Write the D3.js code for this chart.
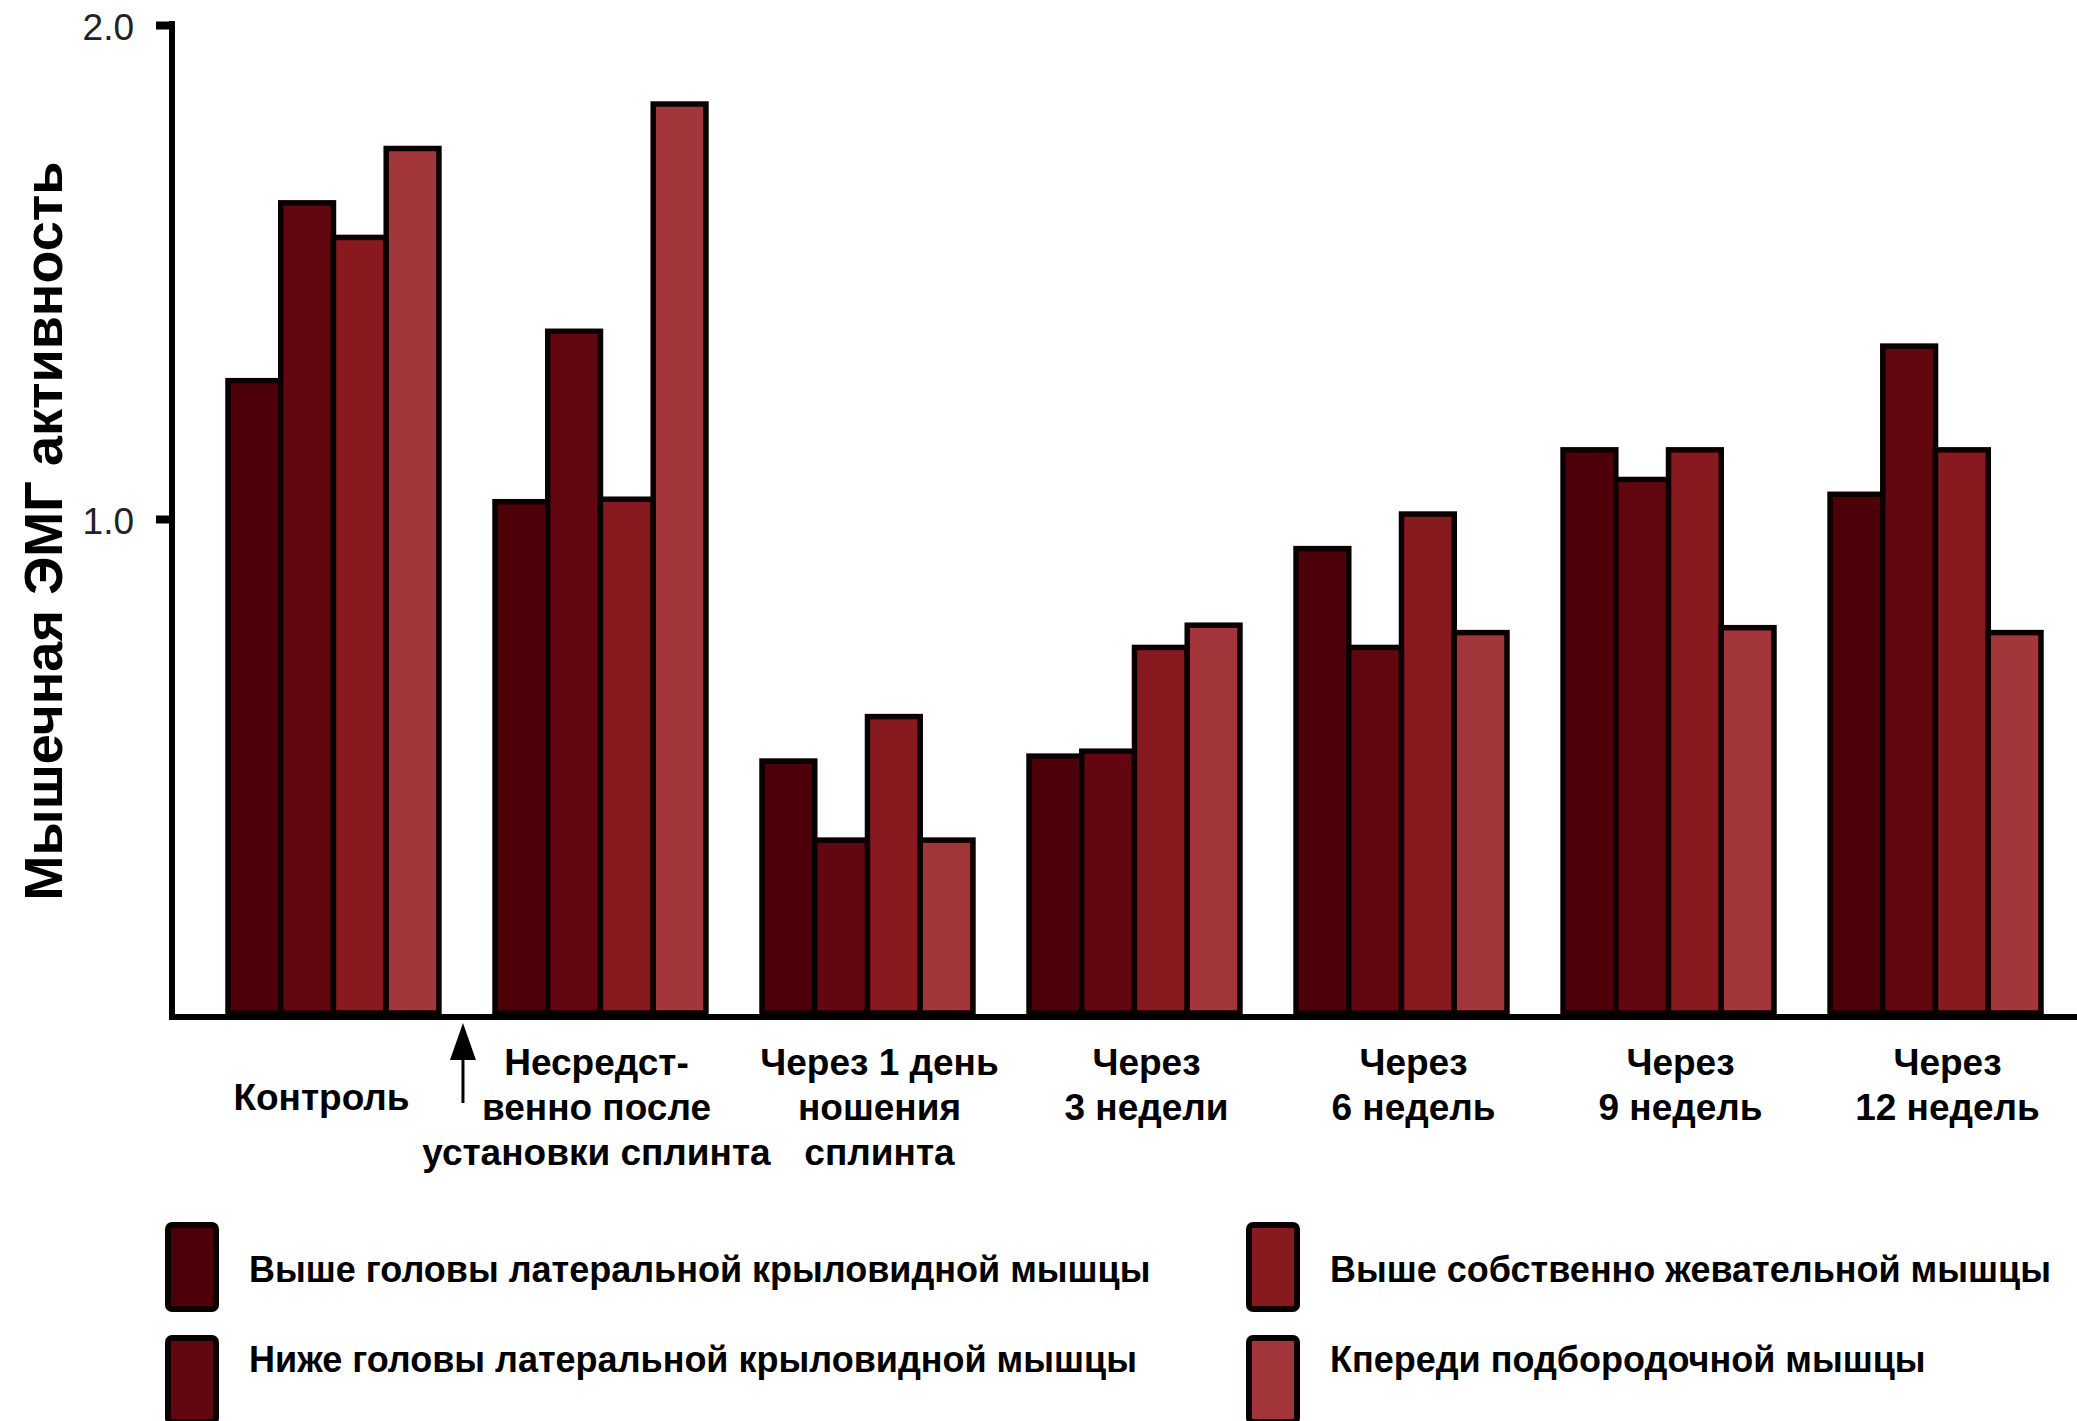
<!DOCTYPE html>
<html>
<head>
<meta charset="utf-8">
<script src="https://cdn.jsdelivr.net/npm/d3@7"></script>
<style>
  body { margin: 0; background: #fff; }
  svg { display: block; font-family: "Liberation Sans", Arial, Helvetica, sans-serif; }
</style>
</head>
<body>
<svg width="2077" height="1421"></svg>
<script>
// groups along the x axis (each label split into lines)
const groups = [
  ["Контроль"],
  ["Несредст-", "венно после", "установки сплинта"],
  ["Через 1 день", "ношения", "сплинта"],
  ["Через", "3 недели"],
  ["Через", "6 недель"],
  ["Через", "9 недель"],
  ["Через", "12 недель"]
];

// muscles (series)
const series = [
  "Выше головы латеральной крыловидной мышцы",
  "Ниже головы латеральной крыловидной мышцы",
  "Выше собственно жевательной мышцы",
  "Кпереди подбородочной мышцы"
];

// EMG activity, one array per series, in group order
const upperLateral = [1.28, 1.035, 0.51, 0.52, 0.94, 1.14, 1.05];
const lowerLateral = [1.64, 1.38, 0.35, 0.53, 0.74, 1.08, 1.35];
const masseter     = [1.57, 1.04, 0.60, 0.74, 1.01, 1.14, 1.14];
const digastric    = [1.75, 1.84, 0.35, 0.785, 0.77, 0.78, 0.77];

const yTicks = [1.0, 2.0];

const values = [upperLateral, lowerLateral, masseter, digastric];
const colors = ["#4e0009", "#62070f", "#88191f", "#a2363b"];

const svg = d3.select("svg");
const W = 2077;
const groupIds = groups.map((g, i) => i);

const x = d3.scaleBand()
  .domain(groupIds)
  .range([228, 2041])
  .paddingInner(0.21)
  .paddingOuter(0)
  .align(0);

const xs = d3.scaleBand()
  .domain(d3.range(series.length))
  .range([0, x.bandwidth()]);

const y = d3.scaleLinear()
  .domain([0, 2])
  .range([1013, 25]);

const color = d3.scaleOrdinal().domain(d3.range(series.length)).range(colors);

// bars
const rows = [];
groupIds.forEach(g => values.forEach((s, k) => rows.push({g, k, v: s[g]})));

svg.append("g")
  .selectAll("rect")
  .data(rows)
  .join("rect")
    .attr("x", d => x(d.g) + xs(d.k))
    .attr("y", d => y(d.v))
    .attr("width", xs.bandwidth())
    .attr("height", d => y(0) - y(d.v))
    .attr("fill", d => color(d.k))
    .attr("stroke", "#0a0000")
    .attr("stroke-width", 5.5);

// y axis
const yAxis = svg.append("g")
  .attr("transform", "translate(172,0)")
  .call(d3.axisLeft(y)
    .tickValues(yTicks)
    .tickSize(16)
    .tickSizeOuter(0)
    .tickPadding(22)
    .tickFormat(d3.format(".1f")));
yAxis.select(".domain").remove();
yAxis.selectAll(".tick line").attr("stroke", "#000").attr("stroke-width", 8);
yAxis.selectAll(".tick text")
  .attr("fill", "#222")
  .attr("dy", "0.4em")
  .style("font-size", "37px")
  .style("font-family", "'Liberation Sans', Arial, sans-serif");

svg.append("line")
  .attr("x1", 172).attr("x2", 172)
  .attr("y1", y(2) - 4).attr("y2", 1020)
  .attr("stroke", "#000").attr("stroke-width", 6);

// baseline
svg.append("line")
  .attr("x1", 169).attr("x2", W)
  .attr("y1", 1017).attr("y2", 1017)
  .attr("stroke", "#000").attr("stroke-width", 6);

// y title
svg.append("text")
  .attr("transform", `translate(62,${(y(0) + y(2)) / 2 + 12}) rotate(-90)`)
  .attr("text-anchor", "middle")
  .style("font-size", "54px")
  .style("font-weight", "bold")
  .text("Мышечная ЭМГ активность");

// group labels
const labels = svg.append("g")
  .style("font-size", "37px")
  .style("font-weight", "bold")
  .attr("text-anchor", "middle");

groups.forEach((lines, i) => {
  const cx = x(i) + x.bandwidth() / 2 + (i === 0 ? -12 : i === 1 ? -4 : 12);
  lines.forEach((t, j) => {
    labels.append("text")
      .attr("x", cx)
      .attr("y", lines.length === 1 ? 1110 : 1075 + j * 45)
      .text(t);
  });
});

// arrow marking splint placement
const ax = (x(0) + x.bandwidth() + x(1)) / 2 - 4;
svg.append("line")
  .attr("x1", ax).attr("x2", ax)
  .attr("y1", 1050).attr("y2", 1103)
  .attr("stroke", "#000").attr("stroke-width", 3);
svg.append("path")
  .attr("d", `M${ax},1023 L${ax - 13},1060 L${ax + 13},1060 Z`)
  .attr("fill", "#000");

// legend
const legend = svg.append("g");
const legX = [168, 1249];
const legY = [1225, 1338];
series.forEach((name, k) => {
  const col = Math.floor(k / 2), row = k % 2;
  legend.append("rect")
    .attr("x", legX[col]).attr("y", legY[row])
    .attr("width", 48).attr("height", 84)
    .attr("rx", 4)
    .attr("fill", color(k))
    .attr("stroke", "#0a0000")
    .attr("stroke-width", 6);
  legend.append("text")
    .attr("x", legX[col] + 81)
    .attr("y", legY[row] + (row === 0 ? 57 : 34))
    .style("font-size", "36px")
    .style("font-weight", "bold")
    .text(name);
});
</script>
</body>
</html>
